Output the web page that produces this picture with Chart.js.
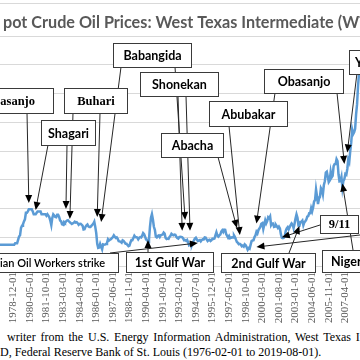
<!DOCTYPE html>
<html>
<head>
<meta charset="utf-8">
<script src="https://cdn.jsdelivr.net/npm/chart.js@4.4.1/dist/chart.umd.min.js"></script>
<style>
  html, body { margin: 0; padding: 0; background: #fff; }
  #wrap { position: relative; width: 360px; height: 360px; overflow: hidden; }
  #chart { position: absolute; left: -40px; top: 0; }
  .src { position: absolute; white-space: nowrap; font-family: "Liberation Serif", "Times New Roman", serif; font-size: 12px; line-height: 15px; color: #000; }
  #pre1 { padding-right: 4px; }
</style>
</head>
<body>
<div id="wrap">
  <canvas id="chart" width="420" height="330"></canvas>
  <div class="src" id="src1"><span id="pre1">Source: Compiled by the </span><span id="vis1">writer from the U.S. Energy Information Administration, West Texas I</span>ntermediate (WTI) spot price</div>
  <div class="src" id="src2"><span id="pre2">Crude Oil Prices: West Texas Intermediate (WTI) - Cushing, Oklahoma, retrieved from FRE</span>D, Federal Reserve Bank of St. Louis (1976-02-01 to 2019-08-01).</div>
</div>
<script>
// WTI spot price, monthly, $ per barrel (from 1976-02)
const wti1970s = [
  11.16, 11.16, 11.16, 11.16, 12.03, 12.03, 12.03, 12.03, 12.03, 12.03, 12.03,
  13.90, 13.90, 13.90, 13.90, 13.90, 14.85, 14.85, 14.85, 14.85, 14.85, 14.85, 14.85,
  14.85, 14.85, 14.85, 14.85, 14.85, 14.85, 14.85, 14.85, 14.85, 14.85, 14.85, 14.85,
  14.85, 15.85, 15.85, 15.85, 18.10, 20.50, 21.35, 26.50, 28.00, 29.00, 31.00, 32.50
];
const wti1980s = [
  37.00, 37.04, 38.00, 39.50, 39.50, 39.50, 39.50, 38.00, 36.00, 36.00, 36.00, 37.00,
  38.00, 38.00, 38.00, 38.00, 36.00, 36.00, 36.00, 36.00, 36.00, 35.00, 36.00, 35.00,
  33.85, 31.56, 28.48, 33.45, 35.93, 35.07, 34.16, 33.95, 35.63, 35.68, 34.15, 31.72,
  31.18, 29.00, 28.80, 30.63, 30.00, 31.00, 31.66, 31.91, 31.11, 30.41, 29.84, 29.24,
  29.70, 30.05, 30.85, 30.26, 30.47, 29.76, 28.65, 29.31, 29.36, 28.77, 28.11, 25.43,
  25.63, 27.30, 28.24, 28.83, 27.62, 27.11, 27.08, 27.90, 28.69, 29.43, 30.81, 27.23,
  22.93, 15.46, 12.61, 12.84, 15.38, 13.43, 11.59, 15.10, 14.87, 14.90, 15.22, 16.11,
  18.65, 17.75, 18.30, 18.68, 19.44, 20.07, 21.34, 20.31, 19.53, 19.86, 18.85, 17.28,
  17.13, 16.80, 16.20, 17.86, 17.42, 16.53, 15.50, 15.52, 14.54, 13.77, 14.14, 16.38,
  18.02, 17.94, 19.48, 21.07, 20.12, 20.05, 19.78, 18.58, 19.59, 20.10, 19.86, 21.10
];
const wti1990s = [
  22.86, 22.11, 20.39, 18.43, 18.20, 16.70, 18.45, 27.31, 33.51, 36.04, 32.33, 27.28,
  25.23, 20.48, 19.90, 20.83, 21.23, 20.19, 21.40, 21.69, 21.89, 23.23, 22.46, 19.50,
  18.79, 19.01, 18.92, 20.23, 20.98, 22.39, 21.78, 21.34, 21.88, 21.69, 20.34, 19.41,
  19.03, 20.09, 20.32, 20.25, 19.95, 19.09, 17.89, 18.01, 17.50, 18.15, 16.61, 14.52,
  15.03, 14.78, 14.68, 16.42, 17.89, 19.06, 19.65, 18.38, 17.45, 17.72, 18.07, 17.16,
  18.04, 18.57, 18.54, 19.90, 19.74, 18.45, 17.33, 18.02, 18.23, 17.43, 17.99, 19.03,
  18.85, 19.09, 21.33, 23.50, 21.17, 20.42, 21.30, 21.90, 23.97, 24.88, 23.71, 25.23,
  25.13, 22.18, 20.97, 19.70, 20.82, 19.26, 19.66, 19.95, 19.80, 21.33, 20.19, 18.33,
  16.72, 16.06, 15.12, 15.35, 14.91, 13.72, 14.17, 13.47, 15.03, 14.46, 13.00, 11.35,
  12.52, 12.01, 14.68, 17.31, 17.72, 17.92, 20.10, 21.28, 23.80, 22.69, 25.00, 26.10
];
const wti2000s = [
  27.26, 29.37, 29.84, 25.72, 28.79, 31.82, 29.70, 31.26, 33.88, 33.11, 34.42, 28.44,
  29.59, 29.61, 27.25, 27.49, 28.63, 27.60, 26.43, 27.37, 26.20, 22.17, 19.64, 19.39,
  19.72, 20.72, 24.53, 26.18, 27.04, 25.52, 26.97, 28.39, 29.66, 28.84, 26.35, 29.46,
  32.95, 35.83, 33.51, 28.17, 28.11, 30.66, 30.75, 31.57, 28.31, 30.34, 31.11, 32.13,
  34.31, 34.69, 36.74, 36.75, 40.28, 38.03, 40.78, 44.90, 45.94, 53.28, 48.47, 43.15,
  46.84, 48.15, 54.19, 52.98, 49.83, 56.35, 59.00, 64.99, 65.59, 62.26, 58.32, 59.41,
  65.49, 61.63, 62.69, 69.44, 70.84, 70.95, 74.41, 73.04, 63.80, 58.89, 59.08, 61.96,
  54.51, 59.28, 60.44, 63.98, 63.46, 67.49, 74.12, 72.36, 79.92, 85.80, 94.77, 91.69,
  92.97, 95.39, 105.45, 112.58, 125.40, 133.88, 133.37
];
const prices = [...wti1970s, ...wti1980s, ...wti1990s, ...wti2000s];

// x tick labels shown (every 17th month)
const tickLabels = [
  '1976-02-01', '1977-07-01', '1978-12-01', '1980-05-01', '1981-10-01', '1983-03-01',
  '1984-08-01', '1986-01-01', '1987-06-01', '1988-11-01', '1990-04-01', '1991-09-01',
  '1993-02-01', '1994-07-01', '1995-12-01', '1997-05-01', '1998-10-01', '2000-03-01',
  '2001-08-01', '2003-01-01', '2004-06-01', '2005-11-01', '2007-04-01'
];
const yTicks = [0, 20, 40, 60, 80, 100, 120, 140, 160];

// month categories
const months = [];
for (let i = 0; i < prices.length; i++) {
  const m = 1 + i; // 1976-02 is index 0
  const y = 1976 + Math.floor(m / 12);
  const mm = (m % 12) + 1;
  months.push(y + '-' + String(mm).padStart(2, '0') + '-01');
}

// annotation boxes (page pixels) and arrows (box point -> [month index, price])
const OX = 40; // canvas is shifted 40px left
const SERIF = 'bold 12.5px "Liberation Serif"';
const boxes = [
  { t: 'Obasanjo', x: -35, y: 88, w: 88, h: 25, f: SERIF, tr: 35 },
  { t: 'Buhari', x: 64, y: 88, w: 63, h: 25, f: SERIF },
  { t: 'Shagari', x: 41, y: 120, w: 54, h: 25 },
  { t: 'Babangida', x: 113, y: 43, w: 78, h: 24 },
  { t: 'Shonekan', x: 140, y: 72, w: 78, h: 24 },
  { t: 'Abacha', x: 161, y: 133, w: 62, h: 24 },
  { t: 'Abubakar', x: 209, y: 101, w: 78, h: 25 },
  { t: 'Obasanjo', x: 264, y: 69, w: 79, h: 24 },
  { t: "Yar'Adua", x: 349, y: 50, w: 70, h: 24, tl: 355 },
  { t: 'Nigerian Oil Workers strike', x: -35, y: 253, w: 153, h: 19, f: '600 11px Lato', tr: 105 },
  { t: '1st Gulf War', x: 126, y: 252, w: 87, h: 20 },
  { t: '2nd Gulf War', x: 221, y: 253, w: 94, h: 19 },
  { t: 'Niger Delta Crisis', x: 322, y: 250, w: 128, h: 22, tl: 331 },
  { t: '9/11', x: 320, y: 215, w: 38, h: 18, f: SERIF }
];
const arrows = [
  { from: [27, 113], to: [50, 43.8] },
  { from: [48, 145], to: [57, 39] },
  { from: [67, 145], to: [88, 39.7] },
  { from: [73, 113], to: [92, 32.7] },
  { from: [100, 113], to: [120, 34.1] },
  { from: [121, 67], to: [124, 30.6] },
  { from: [175, 67], to: [210, 32] },
  { from: [178, 96], to: [207, 24.5] },
  { from: [186, 96], to: [215, 24.5] },
  { from: [218, 157], to: [263, 26.5] },
  { from: [229, 126], to: [266, 21.5] },
  { from: [275, 93], to: [283, 29.5] },
  { from: [320, 225], to: [309, 20] },
  { from: [289, 253], to: [327, 27.8] },
  { from: [353, 250], to: [371, 57.4] },
  { from: [337, 93], to: [373, 71] },
  { from: [357, 73], to: [376, 79] },
  { from: [420, 228], to: [283, 13.2] },
  { from: [110, 253], to: [223, 16] },
  { from: [148, 252], to: [172, 18.1] }
];

const overlay = {
  id: 'overlay',
  afterDraw(chart) {
    const ctx = chart.ctx;
    const xs = chart.scales.x, ys = chart.scales.y;
    ctx.save();
    // outer border top
    ctx.strokeStyle = '#d9d9d9';
    ctx.lineWidth = 1;
    ctx.beginPath();
    ctx.moveTo(0, 3.5); ctx.lineTo(chart.width, 3.5);
    ctx.stroke();
    // title, "S" falls off the left edge
    ctx.fillStyle = '#595959';
    ctx.font = 'bold 16.2px Lato';
    ctx.textBaseline = 'middle';
    ctx.textAlign = 'right';
    ctx.fillText('S', OX - 1, 23);
    ctx.textAlign = 'left';
    ctx.fillText('pot Crude Oil Prices: West Texas Intermediate (WTI)', OX + 3, 23);
    // arrows
    ctx.strokeStyle = '#262626';
    ctx.fillStyle = '#000';
    ctx.lineWidth = 1;
    arrows.forEach(a => {
      const x1 = a.from[0] + OX, y1 = a.from[1];
      const x2 = xs.getPixelForValue(a.to[0]), y2 = ys.getPixelForValue(a.to[1]);
      const ang = Math.atan2(y2 - y1, x2 - x1);
      const c = Math.cos(ang), s = Math.sin(ang);
      ctx.beginPath();
      ctx.moveTo(x1, y1); ctx.lineTo(x2 - 6 * c, y2 - 6 * s);
      ctx.stroke();
      ctx.beginPath();
      ctx.moveTo(x2, y2);
      ctx.lineTo(x2 - 8 * c + 3.5 * s, y2 - 8 * s - 3.5 * c);
      ctx.lineTo(x2 - 8 * c - 3.5 * s, y2 - 8 * s + 3.5 * c);
      ctx.closePath();
      ctx.fill();
    });
    // boxes
    boxes.forEach(b => {
      const x = b.x + OX;
      ctx.fillStyle = '#fff';
      ctx.fillRect(x, b.y, b.w, b.h);
      ctx.strokeStyle = '#3a3a3a';
      ctx.lineWidth = 1;
      ctx.strokeRect(x + 0.5, b.y + 0.5, b.w, b.h);
      ctx.fillStyle = '#000';
      ctx.font = b.f || 'bold 12.5px Lato';
      ctx.textBaseline = 'middle';
      const ty = b.y + b.h / 2 + 1;
      if (b.tr !== undefined) {
        ctx.textAlign = 'right';
        ctx.fillText(b.t, b.tr + OX, ty);
      } else if (b.tl !== undefined) {
        ctx.textAlign = 'left';
        ctx.fillText(b.t, b.tl + OX, ty);
      } else {
        ctx.textAlign = 'center';
        ctx.fillText(b.t, x + b.w / 2 + 0.5, ty);
      }
    });
    ctx.restore();
  }
};

new Chart(document.getElementById('chart'), {
  type: 'line',
  data: {
    labels: months,
    datasets: [{
      data: prices,
      borderColor: '#5b9bd5',
      borderWidth: 2.5,
      pointRadius: 0,
      tension: 0,
      fill: false
    }]
  },
  options: {
    responsive: false,
    animation: false,
    devicePixelRatio: 1,
    layout: { padding: { left: 20, right: 20, top: 36, bottom: 0 } },
    plugins: { legend: { display: false }, tooltip: { enabled: false } },
    scales: {
      x: {
        type: 'category',
        grid: { display: false, drawTicks: false },
        border: { display: false },
        afterFit: s => { s.height = 64; },
        ticks: {
          autoSkip: false,
          minRotation: 90,
          maxRotation: 90,
          padding: 6,
          color: '#595959',
          font: { family: '"Liberation Serif", serif', size: 11 },
          callback: function (v) {
            const l = this.getLabelForValue(v);
            return tickLabels.includes(l) ? l : null;
          }
        }
      },
      y: {
        min: 0,
        max: 160,
        afterFit: s => { s.width = 0; },
        afterBuildTicks: s => { s.ticks = yTicks.map(v => ({ value: v })); },
        grid: { color: '#d9d9d9', lineWidth: 1, drawTicks: false },
        border: { display: false },
        ticks: { display: false }
      }
    }
  },
  plugins: [overlay]
});

// place the cut-off source lines; the first line is justified to the full width
const wrap = document.getElementById('wrap');
const s1 = document.getElementById('src1');
const s2 = document.getElementById('src2');
const v1 = document.getElementById('vis1');
s1.style.wordSpacing = ((353 - v1.offsetWidth) / 9) + 'px';
s1.style.left = '0px'; s1.style.top = '330px';
s2.style.left = '0px'; s2.style.top = '345px';
const base = wrap.getBoundingClientRect().left;
const v1x = v1.getBoundingClientRect().left - base;
s1.style.left = (7 - v1x) + 'px';
const p2 = document.getElementById('pre2').getBoundingClientRect().width;
s2.style.left = (0 - p2) + 'px';
</script>
</body>
</html>
